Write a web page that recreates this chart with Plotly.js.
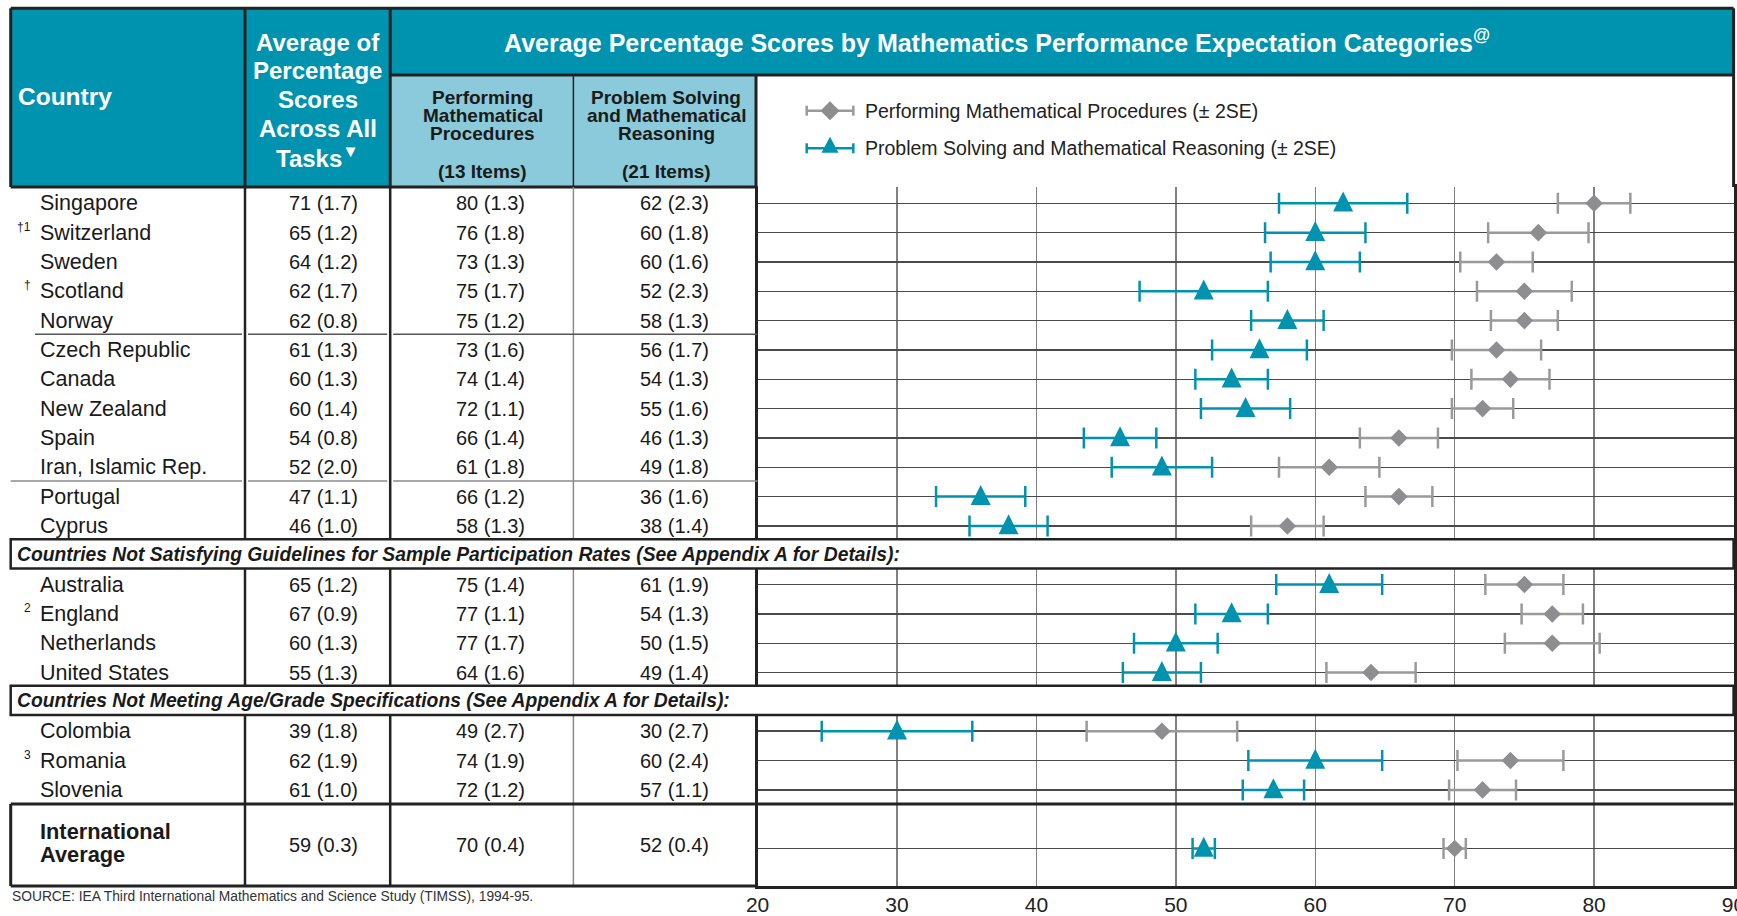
<!DOCTYPE html>
<html><head><meta charset="utf-8">
<script src="https://cdn.plot.ly/plotly-3.0.1.min.js"></script>
<style>html,body{margin:0;padding:0;background:#fff;overflow:hidden}</style>
</head><body><div id="chart" style="width:1737px;height:916px"></div>
<script>
// ---------------- DATA ----------------
const countries = ['Singapore','Switzerland','Sweden','Scotland','Norway','Czech Republic','Canada','New Zealand','Spain','Iran, Islamic Rep.','Portugal','Cyprus',
  'Australia','England','Netherlands','United States',
  'Colombia','Romania','Slovenia',
  'International Average'];
const footnotes = ['','†1','','†','','','','','','','','','','2','','','','3','',''];
const allTasksMean = [71,65,64,62,62,61,60,60,54,52,47,46,65,67,60,55,39,62,61,59];
const allTasksSE   = [1.7,1.2,1.2,1.7,0.8,1.3,1.3,1.4,0.8,2.0,1.1,1.0,1.2,0.9,1.3,1.3,1.8,1.9,1.0,0.3];
const procMean = [80,76,73,75,75,73,74,72,66,61,66,58,75,77,77,64,49,74,72,70];
const procSE   = [1.3,1.8,1.3,1.7,1.2,1.6,1.4,1.1,1.4,1.8,1.2,1.3,1.4,1.1,1.7,1.6,2.7,1.9,1.2,0.4];
const probMean = [62,60,60,52,58,56,54,55,46,49,36,38,61,54,50,49,30,60,57,52];
const probSE   = [2.3,1.8,1.6,2.3,1.3,1.7,1.3,1.6,1.3,1.8,1.6,1.4,1.9,1.3,1.5,1.4,2.7,2.4,1.1,0.4];
const bandTitles = ['Countries Not Satisfying Guidelines for Sample Participation Rates (See Appendix A for Details):',
                    'Countries Not Meeting Age/Grade Specifications (See Appendix A for Details):'];
const bandBefore = ['Australia','Colombia'];
const averageRow = 'International Average';
const separatorsAfter = ['Norway','Iran, Islamic Rep.'];
const xTicks = [20,30,40,50,60,70,80,90];
const seriesNames = ['Performing Mathematical Procedures (± 2SE)','Problem Solving and Mathematical Reasoning (± 2SE)'];
const headerTitle = 'Average Percentage Scores by Mathematics Performance Expectation Categories';
const avgHeader = ['Average of','Percentage','Scores','Across All','Tasks<sup>▼</sup>'];
const subHeaders = [['Performing','Mathematical','Procedures','(13 Items)'],['Problem Solving','and Mathematical','Reasoning','(21 Items)']];
const sourceNote = 'SOURCE: IEA Third International Mathematics and Science Study (TIMSS), 1994-95.';

// ---------------- LAYOUT HELPERS ----------------
const W = 1737, H = 916;
const X = px => px / W, Y = py => 1 - py / H;
const FONT = 'Liberation Sans, Arial, Helvetica, sans-serif';
const TEAL = '#0093b0', LIGHT = '#8acada', DARK = '#222222', GRAY = '#8e8e90';
const ROW0 = 203.3, ROWH = 29.33;
const TOP = 187, BOT = 886, L = 10.7, R = 1733.6;
const C1 = 245, C2 = 390.2, C3 = 573.4, C4 = 757.6;

// row slots (bands and the average occupy extra slots)
const slots = []; let s = 0;
countries.forEach(c => { if (bandBefore.includes(c) || c === averageRow) s++; slots.push(s); s++; });
const slotPx = v => ROW0 + v * ROWH;

const shapes = [];
function line(x0, y0, x1, y1, color, width) {
  shapes.push({type:'line', xref:'paper', yref:'paper', x0:X(x0), y0:Y(y0), x1:X(x1), y1:Y(y1), line:{color, width}, layer:'above'});
}
function rect(x0, y0, x1, y1, fill, lc, lw) {
  shapes.push({type:'rect', xref:'paper', yref:'paper', x0:X(x0), y0:Y(y0), x1:X(x1), y1:Y(y1), fillcolor:fill, line:{color:lc||fill, width:lw||0}, layer:'above'});
}
function path(pts, fill) {
  const d = pts.map((p, i) => (i ? 'L' : 'M') + X(p[0]) + ',' + Y(p[1])).join('') + 'Z';
  shapes.push({type:'path', xref:'paper', yref:'paper', path:d, fillcolor:fill, line:{width:0}, layer:'above'});
}
const ann = [];
function txt(text, xpx, ypx, opt) {
  const o = Object.assign({size:20, color:DARK, anchor:'left', bold:false, italic:false}, opt || {});
  ann.push({text: o.bold ? '<b>' + text + '</b>' : text, xref:'paper', yref:'paper', x:X(xpx), y:Y(ypx),
    xanchor:o.anchor, yanchor:'middle', showarrow:false,
    font:{family:FONT, size:o.size, color:o.color, style:o.italic ? 'italic' : 'normal'}});
}

// ---------------- HEADER ----------------
rect(L, 8.3, R, TOP, TEAL);
rect(C2, 75, C3, TOP, LIGHT);
rect(C3, 75, 756, TOP, LIGHT);
rect(756, 75, R, TOP, '#ffffff');
line(L, 8.3, R, 8.3, DARK, 3);
line(L, 8.3, L, TOP, DARK, 3);
line(R, 8.3, R, TOP, DARK, 3);
line(C1, 8.3, C1, TOP, DARK, 3);
line(C2, 8.3, C2, TOP, DARK, 3);
line(C2, 75, R, 75, DARK, 3);
line(C3, 75, C3, TOP, DARK, 1.5);
line(756, 75, 756, TOP, DARK, 3);
line(L, TOP, C4, TOP, DARK, 3);

txt('Country', 16, 96, {size:24.5, bold:true, color:'#fff'});
avgHeader.forEach((t, i) => txt(t, 317.5, 42.1 + i * 28.8, {size:24, bold:true, color:'#fff', anchor:'center'}));
txt(headerTitle + '<sup>@</sup>', 997, 41.5, {size:25, bold:true, color:'#fff', anchor:'center'});
const subY = [97.5, 115.5, 134, 171.7];
subHeaders.forEach((lines, k) => lines.forEach((t, i) =>
  txt(t, k ? 666 : 482.5, subY[i], {size:19, bold:true, color:'#1a1a1a', anchor:'center'})));

// legend (decoration)
const legY = [110.7, 148.3];
const legCol = [GRAY, TEAL];
legY.forEach((y, k) => {
  line(806.7, y, 853.3, y, k ? TEAL : '#9a9a9a', 2.5);
  line(806.7, y - 5, 806.7, y + 5, k ? TEAL : '#9a9a9a', 2.5);
  line(853.3, y - 5, 853.3, y + 5, k ? TEAL : '#9a9a9a', 2.5);
  if (k === 0) path([[830, y - 9.5], [839.5, y], [830, y + 9.5], [820.5, y]], legCol[k]);
  else path([[830, y - 11.6], [838.5, y + 4.4], [821.5, y + 4.4]], legCol[k]);
  txt(seriesNames[k], 863, y, {size:19.5, color:'#222'});
});

// ---------------- BODY ----------------
line(C1, TOP, C1, BOT, DARK, 2.5);
line(C2, TOP, C2, BOT, DARK, 2.5);
line(C3, TOP, C3, BOT, '#8a8a8a', 1.5);

separatorsAfter.forEach((c, k) => {
  const y = slotPx(slots[countries.indexOf(c)] + 0.5) - 1;
  const col = k ? '#8a8a8a' : '#555';
  line(k ? L : 35, y, C1 - 3, y, col, 1.5);
  line(C1 + 3, y, C2 - 3, y, col, 1.5);
  line(C2 + 3, y, C4, y, col, 1.5);
});

// bands
bandBefore.forEach((c, k) => {
  const sl = slots[countries.indexOf(c)] - 1;
  const y0 = slotPx(sl - 0.55), y1 = slotPx(sl + 0.45);
  rect(L, y0, R, y1, '#ffffff', DARK, 2.5);
  txt(bandTitles[k], 14.5, (y0 + y1) / 2 + 0.5, {size:19.3, bold:true, italic:true, color:'#1a1a1a'});
});

// international average box
line(L, 804, R, 804, DARK, 3);
line(L, 804, L, BOT, DARK, 3);
line(L, BOT, C4, BOT, DARK, 3);

const fmt = (m, se) => m + ' (' + se.toFixed(1) + ')';
countries.forEach((c, i) => {
  let y = slotPx(slots[i]);
  if (c === averageRow) {
    txt('International', 37.5, 831, {size:21.8, bold:true, color:'#1a1a1a'});
    txt('Average', 37.5, 854, {size:21.8, bold:true, color:'#1a1a1a'});
    y = y - 4;
  } else {
    txt(c, 37.5, y, {size:21.5, color:'#1a1a1a'});
    if (footnotes[i]) txt(footnotes[i], 33, y - 6, {size:12, anchor:'right', color:'#1a1a1a'});
  }
  txt(fmt(allTasksMean[i], allTasksSE[i]), 323.5, y, {size:20, anchor:'center', color:'#1a1a1a'});
  txt(fmt(procMean[i], procSE[i]), 490, y, {size:20, anchor:'center', color:'#1a1a1a'});
  txt(fmt(probMean[i], probSE[i]), 674, y, {size:20, anchor:'center', color:'#1a1a1a'});
});

txt(sourceNote, 9.5, 896.5, {size:13.8, color:'#333'});

// ---------------- TRACES ----------------
const traces = [
  {type:'scatter', mode:'markers', name:seriesNames[0], x:procMean, y:slots, cliponaxis:false,
   marker:{symbol:'diamond', size:13.5, color:GRAY, line:{width:0}},
   error_x:{type:'data', array:procSE.map(v => 2 * v), visible:true, color:'#9a9a9a', thickness:2.5, width:10.5},
   hoverinfo:'x', showlegend:false},
  {type:'scatter', mode:'markers', name:seriesNames[1], x:probMean, y:slots, cliponaxis:false,
   marker:{symbol:'arrow-down', angle:180, standoff:11.7, size:20, color:TEAL, line:{width:0}},
   error_x:{type:'data', array:probSE.map(v => 2 * v), visible:true, color:TEAL, thickness:2.5, width:10.5},
   hoverinfo:'x', showlegend:false}
];

const layout = {
  width:W, height:H, margin:{l:0, r:0, t:0, b:0},
  paper_bgcolor:'#fff', plot_bgcolor:'#fff', showlegend:false,
  xaxis:{domain:[X(C4), X(1733.5)], range:[xTicks[0], xTicks[xTicks.length - 1]], tickvals:xTicks,
    showgrid:true, gridcolor:'#808080', gridwidth:1.5, zeroline:false,
    showline:true, mirror:true, linecolor:DARK, linewidth:3, ticks:'',
    tickfont:{family:FONT, size:21, color:DARK}, ticklabelstandoff:-2, ticklabeloverflow:'allow'},
  yaxis:{domain:[Y(BOT), Y(TOP)], range:[(BOT - ROW0) / ROWH, (TOP - ROW0) / ROWH],
    tickvals:slots, showticklabels:false, showgrid:true, gridcolor:'#4a4a4a', gridwidth:1.5,
    zeroline:false, showline:true, mirror:true, linecolor:DARK, linewidth:3, ticks:''},
  shapes, annotations:ann
};
Plotly.newPlot('chart', traces, layout, {displayModeBar:false, staticPlot:true});
</script></body></html>
